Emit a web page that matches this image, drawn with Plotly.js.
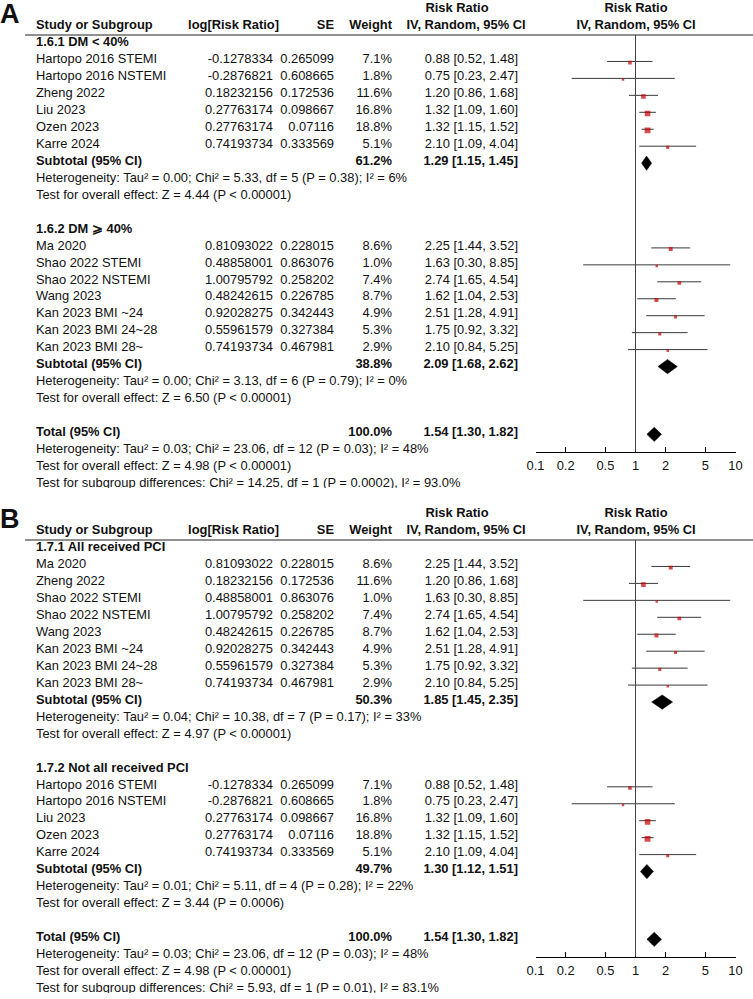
<!DOCTYPE html>
<html><head><meta charset="utf-8">
<script src="https://cdn.plot.ly/plotly-3.0.1.min.js"></script>
<style>html,body{margin:0;padding:0;background:#fff}</style>
</head><body><div id="chart" style="width:753px;height:999px"></div>
<script>
// ---------- DATA ----------
const studyNames = ["Hartopo 2016 STEMI","Hartopo 2016 NSTEMI","Zheng 2022","Liu 2023","Ozen 2023","Karre 2024",
  "Ma 2020","Shao 2022 STEMI","Shao 2022 NSTEMI","Wang 2023","Kan 2023 BMI ~24","Kan 2023 BMI 24~28","Kan 2023 BMI 28~"];
const logRR = [-0.1278334,-0.2876821,0.18232156,0.27763174,0.27763174,0.74193734,
  0.81093022,0.48858001,1.00795792,0.48242615,0.92028275,0.55961579,0.74193734];
const seVals = [0.265099,0.608665,0.172536,0.098667,0.07116,0.333569,
  0.228015,0.863076,0.258202,0.226785,0.342443,0.327384,0.467981];
const weights = [7.1,1.8,11.6,16.8,18.8,5.1, 8.6,1.0,7.4,8.7,4.9,5.3,2.9];
const rrVals = [0.88,0.75,1.20,1.32,1.32,2.10, 2.25,1.63,2.74,1.62,2.51,1.75,2.10];
const rrLow  = [0.52,0.23,0.86,1.09,1.15,1.09, 1.44,0.30,1.65,1.04,1.28,0.92,0.84];
const rrHigh = [1.48,2.47,1.68,1.60,1.52,4.04, 3.52,8.85,4.54,2.53,4.91,3.32,5.25];

// Panel A groups
const groupTitlesA = ["1.6.1 DM < 40%","1.6.2 DM ⩾ 40%"];
const groupMembersA = [[0,1,2,3,4,5],[6,7,8,9,10,11,12]];
const subWeightA = [61.2,38.8];
const subRRA = [1.29,2.09], subLowA = [1.15,1.68], subHighA = [1.45,2.62];
const hetA = ["Heterogeneity: Tau² = 0.00; Chi² = 5.33, df = 5 (P = 0.38); I² = 6%",
              "Heterogeneity: Tau² = 0.00; Chi² = 3.13, df = 6 (P = 0.79); I² = 0%"];
const zA = ["Test for overall effect: Z = 4.44 (P < 0.00001)","Test for overall effect: Z = 6.50 (P < 0.00001)"];
const subgroupTestA = "Test for subgroup differences: Chi² = 14.25, df = 1 (P = 0.0002), I² = 93.0%";

// Panel B groups
const groupTitlesB = ["1.7.1 All received PCI","1.7.2 Not all received PCI"];
const groupMembersB = [[6,2,7,8,9,10,11,12],[0,1,3,4,5]];
const subWeightB = [50.3,49.7];
const subRRB = [1.85,1.30], subLowB = [1.45,1.12], subHighB = [2.35,1.51];
const hetB = ["Heterogeneity: Tau² = 0.04; Chi² = 10.38, df = 7 (P = 0.17); I² = 33%",
              "Heterogeneity: Tau² = 0.01; Chi² = 5.11, df = 4 (P = 0.28); I² = 22%"];
const zB = ["Test for overall effect: Z = 4.97 (P < 0.00001)","Test for overall effect: Z = 3.44 (P = 0.0006)"];
const subgroupTestB = "Test for subgroup differences: Chi² = 5.93, df = 1 (P = 0.01), I² = 83.1%";

// Overall
const totalWeight = 100.0, totalRR = 1.54, totalLow = 1.30, totalHigh = 1.82;
const totalHet = "Heterogeneity: Tau² = 0.03; Chi² = 23.06, df = 12 (P = 0.03); I² = 48%";
const totalZ = "Test for overall effect: Z = 4.98 (P < 0.00001)";

const tickVals = [0.1,0.2,0.5,1,2,5,10];
const tickText = ["0.1","0.2","0.5","1","2","5","10"];

// ---------- LAYOUT CONSTANTS ----------
const W = 753, Hh = 999;
const RH = 16.95;      // row height px
const T0 = 43;         // text centre of first row (panel A)
const DF = 1.5;        // forest offset
const CLIP = 488;      // panel A bottom
const SHIFT = 505;     // panel B offset
const LINE_TOP = 35, AXIS_Y = 451.5;
const FONT = "Liberation Sans, Arial, sans-serif";
const FS = 12.9;
const TXT = "#111";
const colStudy = 36, colLog = 273, colSE = 334, colW = 392, colCI = 518;

const fmt2 = v => v.toFixed(2);
const ciStr = (r,l,h) => fmt2(r)+" ["+fmt2(l)+", "+fmt2(h)+"]";

function buildRows(titles, members, subW, subR, subL, subH, het, z, sgTest) {
  const rows = []; let r = 0;
  titles.forEach((t, g) => {
    rows.push({r: r++, kind:'group', label:t});
    members[g].forEach(i => rows.push({r: r++, kind:'study', i}));
    rows.push({r: r++, kind:'sub', label:'Subtotal (95% CI)', w:subW[g], rr:subR[g], lo:subL[g], hi:subH[g]});
    rows.push({r: r++, kind:'note', label:het[g]});
    rows.push({r: r++, kind:'note', label:z[g]});
    r++;
  });
  rows.push({r: r++, kind:'sub', label:'Total (95% CI)', w:totalWeight, rr:totalRR, lo:totalLow, hi:totalHigh});
  rows.push({r: r++, kind:'note', label:totalHet});
  rows.push({r: r++, kind:'note', label:totalZ});
  rows.push({r: r++, kind:'note', label:sgTest});
  return rows;
}

const traces = [];
function txtTrace(xs, ys, texts, pos, xa, ya, size) {
  traces.push({type:'scatter', mode:'text', x:xs, y:ys, text:texts, textposition:pos,
    textfont:{family:FONT, size:size||FS, color:TXT}, xaxis:xa, yaxis:ya, cliponaxis:true,
    hoverinfo:'skip', showlegend:false});
}

function panel(rows, letter, xa, ya, xf, yf) {
  const L = rows.map(o => {
    if (o.kind==='study') return studyNames[o.i];
    if (o.kind==='group' || o.kind==='sub') return '<b>'+o.label+'</b>';
    return o.label;
  });
  txtTrace(rows.map(()=>colStudy), rows.map(o=>o.r), L, 'middle right', xa, ya);
  const st = rows.filter(o=>o.kind==='study');
  txtTrace(st.map(()=>colLog), st.map(o=>o.r), st.map(o=>String(logRR[o.i])), 'middle left', xa, ya);
  txtTrace(st.map(()=>colSE), st.map(o=>o.r), st.map(o=>String(seVals[o.i])), 'middle left', xa, ya);
  const wr = rows.filter(o=>o.kind==='study'||o.kind==='sub');
  txtTrace(wr.map(()=>colW), wr.map(o=>o.r), wr.map(o=> o.kind==='study' ? weights[o.i].toFixed(1)+'%' : '<b>'+o.w.toFixed(1)+'%</b>'), 'middle left', xa, ya);
  txtTrace(wr.map(()=>colCI), wr.map(o=>o.r), wr.map(o=> o.kind==='study' ? ciStr(rrVals[o.i],rrLow[o.i],rrHigh[o.i]) : '<b>'+ciStr(o.rr,o.lo,o.hi)+'</b>'), 'middle left', xa, ya);
  // headers
  txtTrace([457, 636], [-2,-2], ['<b>Risk Ratio</b>','<b>Risk Ratio</b>'], 'middle center', xa, ya);
  txtTrace([colStudy], [-1], ['<b>Study or Subgroup</b>'], 'middle right', xa, ya);
  txtTrace([279, colSE, colW], [-1,-1,-1], ['<b>log[Risk Ratio]</b>','<b>SE</b>','<b>Weight</b>'], 'middle left', xa, ya);
  txtTrace([466, 636], [-1,-1], ['<b>IV, Random, 95% CI</b>','<b>IV, Random, 95% CI</b>'], 'middle center', xa, ya);
  // panel letter
  txtTrace([0], [(16 - T0)/RH], ['<b>'+letter+'</b>'], 'middle right', xa, ya, 27);

  // forest: CI lines
  const lx = [], ly = [];
  st.forEach(o => { lx.push(rrLow[o.i], rrHigh[o.i], null); ly.push(o.r, o.r, null); });
  traces.push({type:'scatter', mode:'lines', x:lx, y:ly, line:{color:'#3a3a3a', width:1},
    xaxis:xf, yaxis:yf, hoverinfo:'skip', showlegend:false});
  traces.push({type:'scatter', mode:'markers', x:st.map(o=>rrVals[o.i]), y:st.map(o=>o.r + 0.07),
    marker:{symbol:'square', color:'#c40000', size:st.map(o=>Math.max(2.4, 1.35*Math.sqrt(weights[o.i]))), line:{width:0}},
    xaxis:xf, yaxis:yf, hoverinfo:'skip', showlegend:false});
  // diamonds
  const hd = 0.42;
  rows.filter(o=>o.kind==='sub').forEach(o => {
    traces.push({type:'scatter', mode:'lines', x:[o.lo,o.rr,o.hi,o.rr,o.lo], y:[o.r,o.r-hd,o.r,o.r+hd,o.r],
      fill:'toself', fillcolor:'#000', line:{color:'#000', width:0.5},
      xaxis:xf, yaxis:yf, hoverinfo:'skip', showlegend:false});
  });
}

const rowsA = buildRows(groupTitlesA, groupMembersA, subWeightA, subRRA, subLowA, subHighA, hetA, zA, subgroupTestA);
const rowsB = buildRows(groupTitlesB, groupMembersB, subWeightB, subRRB, subLowB, subHighB, hetB, zB, subgroupTestB);
panel(rowsA, 'A', 'x', 'y', 'x2', 'y3');
panel(rowsB, 'B', 'x3', 'y2', 'x4', 'y4');

const pf = px => 1 - px/Hh;
const hidden = {visible:false, showgrid:false, zeroline:false, fixedrange:true};
const forestX = (anchor) => ({type:'log', range:[-1,1], domain:[535.5/W, 735.5/W], anchor:anchor,
  showline:true, linecolor:'#000', linewidth:1, ticks:'inside', ticklen:5, tickcolor:'#000', tickwidth:1,
  tickmode:'array', tickvals:tickVals, ticktext:tickText, showgrid:false, zeroline:false,
  tickfont:{family:FONT, size:FS, color:TXT}, ticklabelstandoff:2});

const layout = {
  width:W, height:Hh, margin:{l:0,r:0,t:0,b:0}, paper_bgcolor:'#fff', plot_bgcolor:'rgba(0,0,0,0)',
  showlegend:false, hovermode:false,
  xaxis:Object.assign({}, hidden, {range:[0,W], domain:[0,1], anchor:'y'}),
  yaxis:Object.assign({}, hidden, {domain:[pf(CLIP),1], range:[(CLIP-T0)/RH, (0-T0)/RH], anchor:'x'}),
  xaxis3:Object.assign({}, hidden, {range:[0,W], domain:[0,1], anchor:'y2'}),
  yaxis2:Object.assign({}, hidden, {domain:[pf(CLIP+SHIFT), pf(CLIP)], range:[(CLIP-T0)/RH, (CLIP-SHIFT-T0)/RH], anchor:'x3'}),
  xaxis2:forestX('y3'),
  yaxis3:Object.assign({}, hidden, {domain:[pf(AXIS_Y), pf(LINE_TOP)], range:[(AXIS_Y-T0-DF)/RH, (LINE_TOP-T0-DF)/RH], anchor:'x2'}),
  xaxis4:forestX('y4'),
  yaxis4:Object.assign({}, hidden, {domain:[pf(AXIS_Y+SHIFT), pf(LINE_TOP+SHIFT)], range:[(AXIS_Y-T0-DF)/RH, (LINE_TOP-T0-DF)/RH], anchor:'x4'}),
  shapes:[
    {type:'line', xref:'x', yref:'paper', x0:25, x1:W, y0:pf(LINE_TOP), y1:pf(LINE_TOP), line:{color:'#222', width:1.2}},
    {type:'line', xref:'x3', yref:'paper', x0:25, x1:W, y0:pf(LINE_TOP+SHIFT), y1:pf(LINE_TOP+SHIFT), line:{color:'#222', width:1.2}},
    {type:'line', xref:'x2', yref:'y3 domain', x0:1, x1:1, y0:0, y1:1, line:{color:'#444', width:1}},
    {type:'line', xref:'x4', yref:'y4 domain', x0:1, x1:1, y0:0, y1:1, line:{color:'#444', width:1}}
  ]
};

Plotly.newPlot('chart', traces, layout, {staticPlot:true, displayModeBar:false});
</script></body></html>
